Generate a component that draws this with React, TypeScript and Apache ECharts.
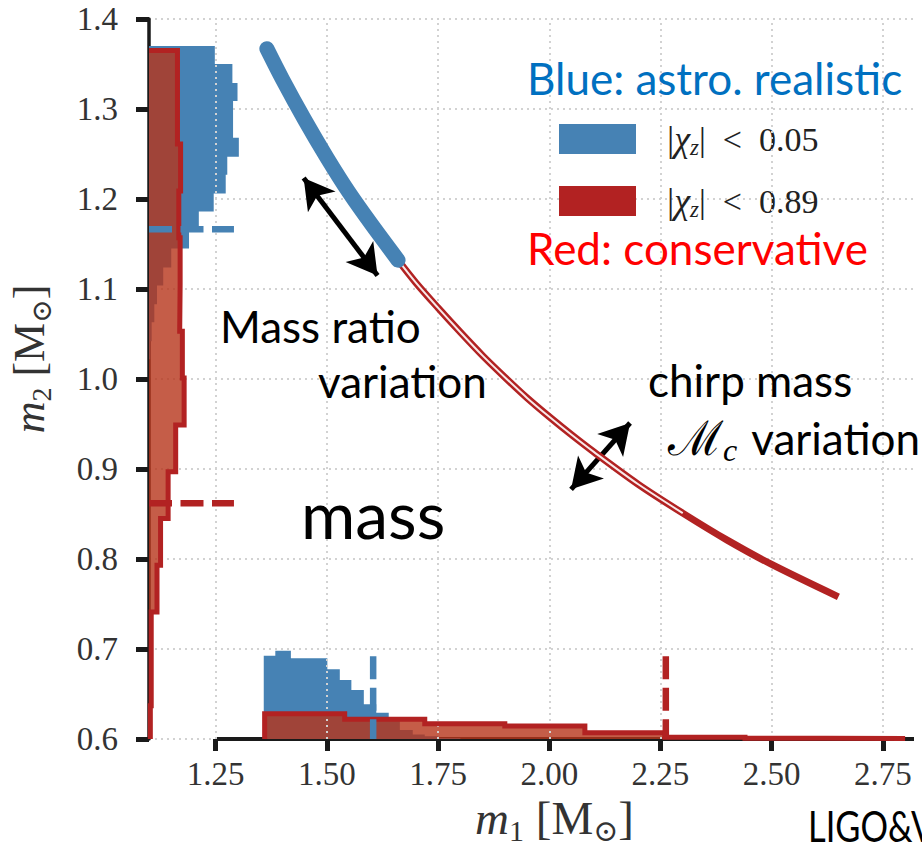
import React, { useEffect, useRef } from "react";
import * as echarts from "echarts";

// Plot ranges of the m1-m2 plane
const X_MIN = 1.1;
const X_MAX = 2.82;
const Y_MIN = 0.6;
const Y_MAX = 1.4;

const xTicks = [1.25, 1.5, 1.75, 2.0, 2.25, 2.5, 2.75];

// m2 marginals: bin edges along m2 (top to bottom), bar reach along m1 from the left edge
const blueM2Edges = [1.370, 1.350, 1.329, 1.309, 1.288, 1.268, 1.247, 1.227, 1.206, 1.186, 1.165, 1.145, 1.124, 1.104, 1.083, 1.063, 1.042, 1.022];
const blueM2Reach = [1.248, 1.2875, 1.299, 1.289, 1.289, 1.302, 1.276, 1.2725, 1.2455, 1.212, 1.190, 1.150, 1.132, 1.118, 1.112, 1.106, 1.103];
const redM2Edges = [1.365, 1.313, 1.261, 1.209, 1.157, 1.105, 1.053, 1.001, 0.949, 0.897, 0.845, 0.793, 0.741, 0.689, 0.637, 0.600];
const redM2Reach = [1.164, 1.164, 1.171, 1.167, 1.170, 1.169, 1.175, 1.179, 1.160, 1.143, 1.126, 1.118, 1.105, 1.105, 1.103];

// m1 marginals: bin edges along m1, bar height along m2 from the bottom edge
const blueM1Edges = [1.358, 1.384, 1.419, 1.501, 1.529, 1.555, 1.583, 1.611, 1.639, 1.664, 1.693, 1.720, 1.750, 1.800];
const blueM1Reach = [0.6926, 0.698, 0.6897, 0.6774, 0.6656, 0.6544, 0.6386, 0.6292, 0.622, 0.610, 0.605, 0.603, 0.601];
const redM1Edges = [1.36, 1.54, 1.72, 1.90, 2.08, 2.26, 2.44, 2.62, 2.80];
const redM1Reach = [0.628, 0.622, 0.617, 0.6145, 0.607, 0.602, 0.6008, 0.6005];

// 90% upper bounds [blue, red]
const boundM1 = [1.604, 2.262];
const boundM2 = [1.1665, 0.862];

// Constant chirp-mass track
const trackM1 = [1.365, 1.40, 1.45, 1.50, 1.55, 1.60, 1.66, 1.70, 1.75, 1.80, 1.85, 1.90, 1.95, 2.00, 2.05, 2.10, 2.20, 2.30, 2.40, 2.50, 2.65];
const trackM2 = [1.367, 1.333, 1.288, 1.246, 1.207, 1.172, 1.132, 1.107, 1.079, 1.052, 1.026, 1.002, 0.979, 0.958, 0.938, 0.919, 0.883, 0.851, 0.821, 0.794, 0.758];
const blueTrackEnd = 7; // low-spin track covers the first points only

const BLUE = "#4682b4";
const RED = "#b22222";
const RED_FILL = "rgba(182,52,26,0.8)";
const INK = "#1a1a1a";
const GRID = "#d2d2d2";
const SERIF = "'Liberation Serif', 'DejaVu Serif', serif";
const SANS = "Lato, 'Open Sans', sans-serif";
const TICK_INK = "#333";

const LEG_BLUE = "|χz| < 0.05";
const LEG_RED = "|χz| < 0.89";

type Pt = [number, number];

function stepAlongM2(edges: number[], reach: number[]): Pt[] {
  const pts: Pt[] = [[X_MIN, edges[0]]];
  reach.forEach((r, i) => {
    pts.push([r, edges[i]], [r, edges[i + 1]]);
  });
  return pts;
}

function stepAlongM1(edges: number[], reach: number[]): Pt[] {
  const pts: Pt[] = [[edges[0], Y_MIN]];
  reach.forEach((r, i) => {
    pts.push([edges[i], r], [edges[i + 1], r]);
  });
  pts.push([edges[edges.length - 1], Y_MIN]);
  return pts;
}

function filledHist(name: string, outline: Pt[], fill: string, z: number) {
  return {
    type: "custom",
    name,
    z,
    silent: true,
    clip: true,
    data: [[0]],
    renderItem: (_p: any, api: any) => ({
      type: "polygon",
      shape: { points: outline.map((p) => api.coord(p)) },
      style: { fill },
    }),
  };
}

function lineSeries(data: Pt[], color: string, width: number, z: number, extra: any = {}) {
  return {
    type: "line",
    data,
    z,
    symbol: "none",
    silent: true,
    clip: false,
    lineStyle: { color, width, ...(extra.lineStyle || {}) },
    ...Object.fromEntries(Object.entries(extra).filter(([k]) => k !== "lineStyle")),
  };
}

function axisRich(size: number) {
  return {
    i: { fontFamily: SERIF, fontStyle: "italic", fontSize: size, lineHeight: size + 7, color: "#333" },
    n: { fontFamily: SERIF, fontSize: size, lineHeight: size + 7, color: "#333" },
    s: { fontFamily: SERIF, fontSize: Math.round(size * 0.64), lineHeight: Math.round(size * 0.55), verticalAlign: "bottom", color: "#333" },
  };
}

function label(text: string, left: number, baseline: number, size: number, color = "#000", scaleX = 1) {
  return {
    type: "text",
    x: left,
    y: baseline - 0.387 * size,
    scaleX,
    z: 100,
    silent: true,
    style: { text, fontFamily: SANS, fontSize: size, fill: color, align: "left", verticalAlign: "middle" },
  };
}

export default function App() {
  const ref = useRef<HTMLDivElement>(null);

  useEffect(() => {
    if (!ref.current) return;
    const chart = echarts.init(ref.current, null, { renderer: "svg" });

    const blueLeft = stepAlongM2(blueM2Edges, blueM2Reach);
    blueLeft.push([X_MIN, blueM2Edges[blueM2Edges.length - 1]]);
    const redLeft = stepAlongM2(redM2Edges, redM2Reach);
    const redLeftPoly = [...redLeft, [X_MIN, redM2Edges[redM2Edges.length - 1]] as Pt];
    const blueBottom = stepAlongM1(blueM1Edges, blueM1Reach);
    const redBottom = stepAlongM1(redM1Edges, redM1Reach);

    const track: Pt[] = trackM1.map((m, i) => [m, trackM2[i]]);
    const dash = { type: [23, 8.5], cap: "butt" };

    const option: any = {
      animation: false,
      backgroundColor: "#fff",
      grid: { left: 149, right: 8, top: 19, bottom: 110, containLabel: false, outerBoundsMode: "none" },
      legend: {
        orient: "vertical",
        left: 559,
        top: 121,
        padding: 0,
        itemWidth: 77,
        itemHeight: 30,
        itemGap: 24,
        selectedMode: false,
        data: [
          { name: LEG_BLUE, icon: "rect", itemStyle: { color: BLUE, opacity: 1 } },
          { name: LEG_RED, icon: "rect", itemStyle: { color: RED, opacity: 1 } },
        ],
        formatter: (name: string) => `{p||}{g|χ}{s|z}{n||  <  ${name.split("< ")[1]}}`,
        textStyle: {
          rich: {
            p: { fontFamily: SERIF, fontSize: 36, lineHeight: 40, color: "#222", padding: [0, 0, 0, 26] },
            g: { fontFamily: SERIF, fontStyle: "italic", fontSize: 36, lineHeight: 40, color: "#222" },
            s: { fontFamily: SERIF, fontStyle: "italic", fontSize: 23, lineHeight: 22, verticalAlign: "bottom", color: "#222" },
            n: { fontFamily: SERIF, fontSize: 34, lineHeight: 40, color: "#222" },
          },
        },
      },
      xAxis: {
        type: "value",
        min: X_MIN,
        max: X_MAX,
        axisLine: { show: false },
        splitLine: { show: false },
        axisTick: { show: true, customValues: xTicks, length: 12, lineStyle: { width: 5, color: INK } },
        axisLabel: {
          customValues: xTicks,
          formatter: (v: number) => v.toFixed(2),
          margin: 18,
          fontFamily: SERIF,
          fontSize: 33,
          color: TICK_INK,
        },
        name: "{i|m}{s|1}{n| [M}{s|⊙}{n|]}",
        nameLocation: "middle",
        nameGap: 48,
        nameTextStyle: { rich: axisRich(47), padding: [0, 0, 0, 46] },
      },
      yAxis: {
        type: "value",
        min: Y_MIN,
        max: Y_MAX,
        interval: 0.1,
        axisLine: { show: true, onZero: false, lineStyle: { width: 3.5, color: INK } },
        axisTick: { show: true, length: 13, lineStyle: { width: 5, color: INK } },
        axisLabel: {
          formatter: (v: number) => v.toFixed(1),
          margin: 31,
          fontFamily: SERIF,
          fontSize: 33,
          color: TICK_INK,
        },
        splitLine: { show: true, lineStyle: { type: [2, 4], width: 2, color: GRID } },
        name: "{i|m}{s|2}{n| [M}{s|⊙}{n|]}",
        nameLocation: "middle",
        nameRotate: 90,
        nameGap: 94,
        nameTextStyle: { rich: axisRich(44), padding: [0, 0, 0, 40] },
      },
      series: [
        // vertical grid lines at the m1 ticks
        {
          type: "line",
          data: [[X_MIN, Y_MIN]],
          symbol: "none",
          silent: true,
          z: 1,
          lineStyle: { opacity: 0 },
          markLine: {
            silent: true,
            symbol: "none",
            animation: false,
            label: { show: false },
            lineStyle: { type: [2, 4], width: 2, color: GRID },
            data: xTicks.map((v) => ({ xAxis: v })),
          },
        },
        // trimmed bottom spine
        lineSeries([[1.25, Y_MIN], [X_MAX, Y_MIN]], INK, 4, 2),

        filledHist(LEG_BLUE, blueLeft, BLUE, 3),
        filledHist(LEG_BLUE, blueBottom, BLUE, 3),
        filledHist(LEG_RED, redLeftPoly, RED_FILL, 4),
        filledHist(LEG_RED, redBottom, RED_FILL, 4),

        lineSeries(redLeft, RED, 5, 5, { lineStyle: { join: "miter" } }),
        lineSeries(redBottom, RED, 5, 5, { lineStyle: { join: "miter" } }),

        // 90% bounds
        lineSeries([[X_MIN, boundM2[0]], [1.291, boundM2[0]]], BLUE, 6.5, 6, { lineStyle: dash }),
        lineSeries([[X_MIN, boundM2[1]], [1.291, boundM2[1]]], RED, 6.5, 6, { lineStyle: dash }),
        lineSeries([[boundM1[0], 0.692], [boundM1[0], Y_MIN]], BLUE, 6.5, 6, { lineStyle: dash }),
        lineSeries([[boundM1[1], 0.692], [boundM1[1], Y_MIN]], RED, 6.5, 6, { lineStyle: dash }),

        // chirp-mass tracks
        lineSeries(track, RED, 7, 7, { smooth: 0.3 }),
        lineSeries(track.slice(blueTrackEnd - 1, 18), "#fff", 2, 8, { smooth: 0.3, lineStyle: { opacity: 0.9 } }),
        lineSeries(track.slice(0, blueTrackEnd), BLUE, 15, 9, { smooth: 0.3, lineStyle: { cap: "round" } }),

        // double-headed arrows
        {
          type: "line",
          data: [[X_MIN, Y_MIN]],
          symbol: "none",
          silent: true,
          z: 10,
          lineStyle: { opacity: 0 },
          markLine: {
            silent: true,
            animation: false,
            symbol: ["arrow", "arrow"],
            symbolSize: [26, 30],
            label: { show: false },
            lineStyle: { type: "solid", width: 5, color: "#000" },
            itemStyle: { color: "#000" },
            data: [
              [{ coord: [1.4477, 1.2234] }, { coord: [1.6138, 1.1151] }],
              [{ coord: [2.049, 0.8774] }, { coord: [2.1816, 0.9511] }],
            ],
          },
        },
      ],
      graphic: [
        label("Blue: astro. realistic", 527, 95, 44, "#0070C0"),
        label("Red: conservative", 527, 265, 44, "#FF0000"),
        label("Mass ratio", 220, 343, 44),
        label("variation", 318, 398, 44),
        label("chirp mass", 648, 397, 44),
        {
          type: "text",
          x: 668,
          y: 455 - 0.387 * 44,
          z: 100,
          silent: true,
          style: {
            text: "{M|ℳ}{c|c}{v|variation}",
            align: "left",
            verticalAlign: "middle",
            rich: {
              M: { fontFamily: "'DejaVu Serif', serif", fontSize: 48, lineHeight: 56, fill: "#000" },
              c: { fontFamily: SERIF, fontStyle: "italic", fontSize: 32, lineHeight: 32, verticalAlign: "bottom", fill: "#000" },
              v: { fontFamily: SANS, fontSize: 44, lineHeight: 56, fill: "#000", padding: [0, 0, 0, 14] },
            },
          },
        },
        label("mass", 301, 539, 66),
        label("LIGO&V", 808, 842, 42, "#000", 0.82),
      ],
    };

    chart.setOption(option);
    return () => chart.dispose();
  }, []);

  return (
    <div
      ref={ref}
      style={{ position: "absolute", left: 0, top: 0, width: 922, height: 849, background: "#fff" }}
    />
  );
}
